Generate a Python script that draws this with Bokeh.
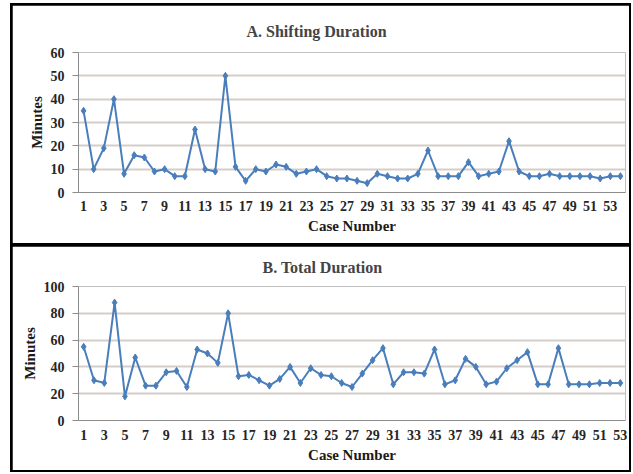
from bokeh.plotting import figure
from bokeh.layouts import column
from bokeh.models import Range1d, FixedTicker
from bokeh.embed import file_html
from bokeh.resources import INLINE

# Panel A: Shifting Duration (minutes), cases 1..54
cases_a = list(range(1, 55))
shifting = [35, 10, 19, 40, 8, 16, 15, 9, 10, 7,
            7, 27, 10, 9, 50, 11, 5, 10, 9, 12,
            11, 8, 9, 10, 7, 6, 6, 5, 4, 8,
            7, 6, 6, 8, 18, 7, 7, 7, 13, 7,
            8, 9, 22, 9, 7, 7, 8, 7, 7, 7,
            7, 6, 7, 7]

# Panel B: Total Duration (minutes), cases 1..53
cases_b = list(range(1, 54))
total = [55, 30, 28, 88, 18, 47, 26, 26, 36, 37,
         25, 53, 50, 43, 80, 33, 34, 30, 26, 31,
         40, 28, 39, 34, 33, 28, 25, 35, 45, 54,
         27, 36, 36, 35, 53, 27, 30, 46, 40, 27,
         29, 39, 45, 51, 27, 27, 54, 27, 27, 27,
         28, 28, 28]

x_ticks_a = list(range(1, 54, 2))
x_ticks_b = list(range(1, 54, 2))
y_ticks_a = [0, 10, 20, 30, 40, 50, 60]
y_ticks_b = [0, 20, 40, 60, 80, 100]

titles = ["A. Shifting Duration", "B. Total Duration"]

BLUE = "#4a7ebb"
GRID = "#d5cec8"
AXIS = "#8c8c8c"
FONT = "'Liberation Serif', 'Times New Roman', serif"


def make_panel(xs, ys, title, xr, yr, xt, yt, height, borders, ystand,
               title_off, title_stand, xstand, xlab_stand):
    p = figure(width=617, height=height, output_backend="svg", toolbar_location=None,
               x_range=Range1d(*xr), y_range=Range1d(*yr),
               min_border_left=borders[0], min_border_right=borders[1],
               min_border_top=borders[2], min_border_bottom=borders[3])
    p.outline_line_color = None
    p.background_fill_color = "white"
    p.border_fill_color = "white"
    p.title.text = title
    p.title.text_font = FONT
    p.title.text_font_style = "bold"
    p.title.text_font_size = "16px"
    p.title.align = "left"
    p.title.offset = title_off
    p.title.standoff = title_stand
    p.xgrid.grid_line_color = None
    p.ygrid.grid_line_color = GRID
    p.ygrid.grid_line_width = 2
    p.ygrid.ticker = FixedTicker(ticks=yt)

    p.xaxis.ticker = FixedTicker(ticks=xt)
    p.yaxis.ticker = FixedTicker(ticks=yt)
    for ax in (p.xaxis, p.yaxis):
        ax.axis_line_color = AXIS
        ax.axis_line_width = 1
        ax.minor_tick_line_color = None
        ax.major_label_text_font = FONT
        ax.major_label_text_font_style = "bold"
        ax.major_label_text_font_size = "14px"
        ax.major_label_text_color = "#262626"
        ax.axis_label_text_font = FONT
        ax.axis_label_text_font_style = "bold"
        ax.axis_label_text_font_size = "15px"
        ax.axis_label_text_color = "#1a1a1a"
    p.xaxis.major_tick_line_color = None
    p.xaxis.major_tick_out = 0
    p.xaxis.major_tick_in = 0
    p.xaxis.major_label_standoff = xstand
    p.xaxis.axis_label = "Case Number"
    p.xaxis.axis_label_standoff = xlab_stand
    p.yaxis.major_tick_line_color = AXIS
    p.yaxis.major_tick_out = 6
    p.yaxis.major_tick_in = 0
    p.yaxis.major_label_standoff = ystand
    p.yaxis.axis_label = "Minutes"
    p.yaxis.axis_label_standoff = 3

    p.line(xs, ys, line_color=BLUE, line_width=2)
    p.scatter(xs, ys, marker="diamond", size=7, fill_color=BLUE, line_color=BLUE)
    return p


pA = make_panel(cases_a, shifting, titles[0], (0.5, 54.5), (0, 60), x_ticks_a, y_ticks_a,
                238, (59, 3, 47, 51), 8, 168, 26, 8, 4)
pB = make_panel(cases_b, total, titles[1], (0.5, 53.5), (0, 100), x_ticks_b, y_ticks_b,
                224, (66, 4, 40, 50), 8, 184, 21, 9, 4)

layout = column(pA, pB, spacing=3,
                styles={"border": "2px solid black", "margin-left": "10px",
                        "margin-top": "3px", "background-color": "black"})

open("out.html", "w").write(file_html(layout, INLINE))
